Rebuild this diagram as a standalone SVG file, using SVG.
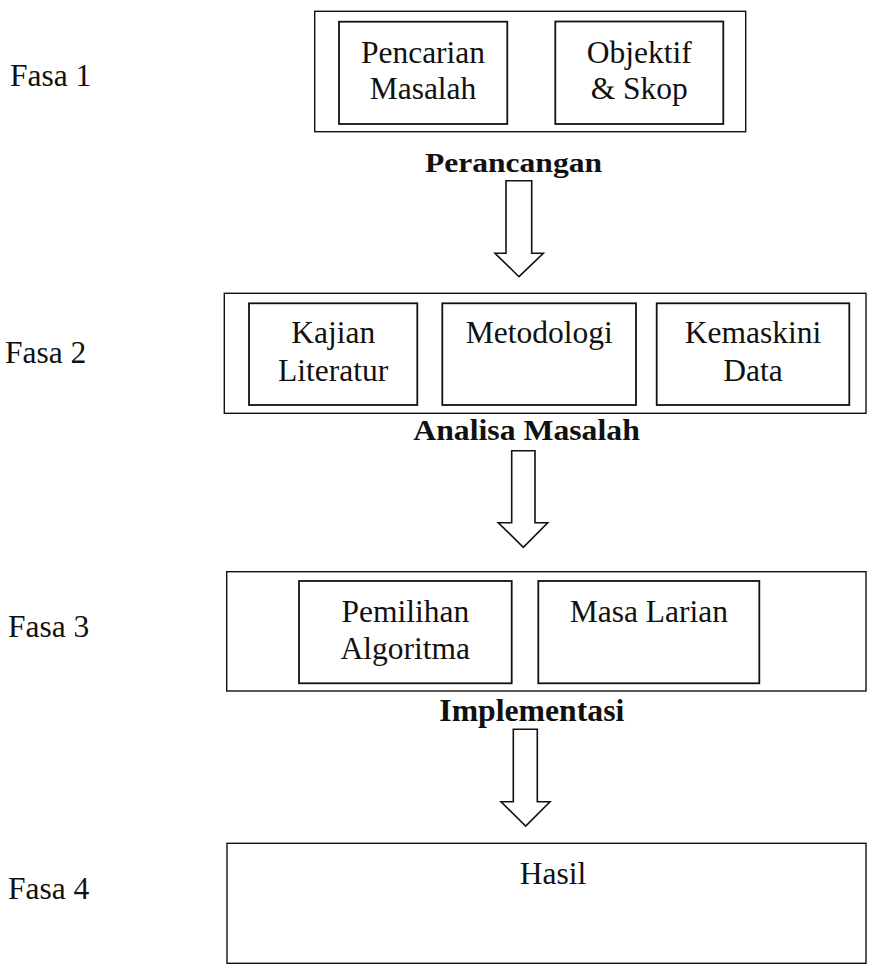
<svg xmlns="http://www.w3.org/2000/svg" width="883" height="973" viewBox="0 0 883 973">
  <style>
    .frame { fill: #fff; stroke: #111; stroke-width: 1.4; }
    .item { fill: #fff; stroke: #111; stroke-width: 1.8; }
    .txt { font-family: "Liberation Serif", "Times New Roman", serif; font-size: 31.5px; fill: #111; }
    .mid { text-anchor: middle; }
    .stage { font-family: "Liberation Serif", "Times New Roman", serif; font-weight: bold; fill: #111; }
    .flow { fill: #fff; stroke: #111; stroke-width: 1.6; stroke-linejoin: miter; }
  </style>
  <rect width="883" height="973" fill="#fff"/>

  <!-- phase labels -->
  <g id="phase-labels">
    <text class="txt" x="10" y="86">Fasa 1</text>
    <text class="txt" x="5" y="363">Fasa 2</text>
    <text class="txt" x="8" y="637">Fasa 3</text>
    <text class="txt" x="8" y="899">Fasa 4</text>
  </g>

  <!-- phase 1 -->
  <g id="fasa1">
    <rect class="frame" x="314.7" y="11.3" width="431" height="120.4"/>
    <g id="pencarian-masalah">
      <rect class="item" x="339" y="21.7" width="168.3" height="102.3"/>
      <text class="txt mid" x="423" y="62.7">Pencarian</text>
      <text class="txt mid" x="423" y="99">Masalah</text>
    </g>
    <g id="objektif-skop">
      <rect class="item" x="555.3" y="21.5" width="168" height="102.5"/>
      <text class="txt mid" x="639.3" y="62.5">Objektif</text>
      <text class="txt mid" x="639.3" y="99">&amp; Skop</text>
    </g>
    <text class="stage" x="425" y="172.3" font-size="28" textLength="177" lengthAdjust="spacingAndGlyphs">Perancangan</text>
  </g>

  <!-- phase 2 -->
  <g id="fasa2">
    <rect class="frame" x="224.3" y="293.3" width="641.7" height="120"/>
    <g id="kajian-literatur">
      <rect class="item" x="249" y="303.3" width="168.3" height="101.7"/>
      <text class="txt mid" x="333.2" y="343.3">Kajian</text>
      <text class="txt mid" x="333.2" y="381">Literatur</text>
    </g>
    <g id="metodologi">
      <rect class="item" x="442.3" y="303.3" width="193.7" height="101.7"/>
      <text class="txt mid" x="539.2" y="343.3">Metodologi</text>
    </g>
    <g id="kemaskini-data">
      <rect class="item" x="656.7" y="303.3" width="192.6" height="101.7"/>
      <text class="txt mid" x="753" y="343.3">Kemaskini</text>
      <text class="txt mid" x="753" y="381">Data</text>
    </g>
    <text class="stage" x="413.3" y="440" font-size="30" textLength="226.5" lengthAdjust="spacingAndGlyphs">Analisa Masalah</text>
  </g>

  <!-- phase 3 -->
  <g id="fasa3">
    <rect class="frame" x="226.7" y="571.7" width="639.3" height="119.3"/>
    <g id="pemilihan-algoritma">
      <rect class="item" x="299" y="581" width="212.7" height="102.3"/>
      <text class="txt mid" x="405.3" y="622.3">Pemilihan</text>
      <text class="txt mid" x="405.3" y="659.3">Algoritma</text>
    </g>
    <g id="masa-larian">
      <rect class="item" x="538.3" y="581" width="221" height="102.3"/>
      <text class="txt mid" x="648.8" y="622.3">Masa Larian</text>
    </g>
    <text class="stage" x="439.3" y="720.7" font-size="31" textLength="185" lengthAdjust="spacingAndGlyphs">Implementasi</text>
  </g>

  <!-- phase 4 -->
  <g id="fasa4">
    <rect class="frame" x="227" y="843.3" width="639" height="120"/>
    <text class="txt mid" x="553" y="884">Hasil</text>
  </g>

  <!-- block arrows between phases -->
  <g id="connectors">
    <polygon class="flow" points="506,180.7 531.7,180.7 531.7,253.3 543.3,253.3 519,276.7 495,253.3 506,253.3"/>
    <polygon class="flow" points="511.7,450.7 535,450.7 535,522.7 547.7,522.7 523.3,547.3 498.3,522.7 511.7,522.7"/>
    <polygon class="flow" points="513.3,729.3 537.3,729.3 537.3,801.7 550,801.7 525.7,826 501,801.7 513.3,801.7"/>
  </g>
</svg>
